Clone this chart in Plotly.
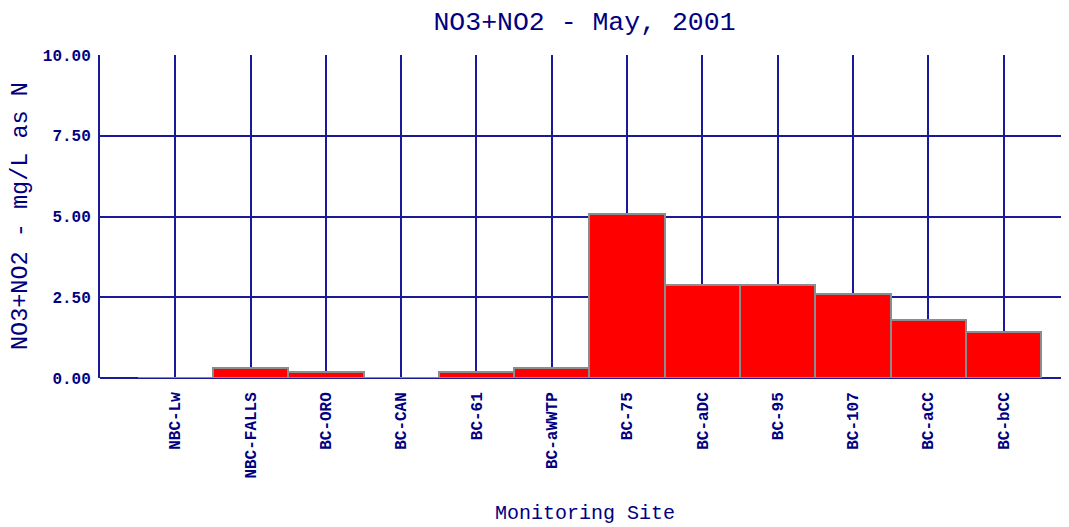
import plotly.graph_objects as go

sites = ["NBC-Lw", "NBC-FALLS", "BC-ORO", "BC-CAN", "BC-61", "BC-aWWTP",
         "BC-75", "BC-aDC", "BC-95", "BC-107", "BC-aCC", "BC-bCC"]
values = [0.0, 0.31, 0.19, 0.0, 0.19, 0.31, 5.07, 2.88, 2.88, 2.60, 1.80, 1.43]
y_ticks = [0, 2.5, 5, 7.5, 10]

title_text = "NO3+NO2 - May, 2001"
x_title = "Monitoring Site"
y_title = "NO3+NO2 - mg/L as N"

NAVY = "#1a1a99"
TEXT = "#000080"
MONO = "Liberation Mono, DejaVu Sans Mono, monospace"

fig = go.Figure(go.Bar(
    x=sites, y=values, width=1,
    marker=dict(color="#ff0000", line=dict(color="#8c8c8c", width=2)),
))

fig.update_layout(
    width=1061, height=519,
    margin=dict(l=92, r=0, t=47, b=149),
    paper_bgcolor="white", plot_bgcolor="white",
    showlegend=False, bargap=0,
    title=dict(text=title_text, x=0.5, xref="paper", xanchor="center",
               y=1, yref="container", yanchor="top", pad=dict(t=3),
               font=dict(family=MONO, size=26.5, color=TEXT)),
    xaxis=dict(
        type="category", range=[-1, 11.87],
        showgrid=True, gridcolor=NAVY, gridwidth=1.5,
        showline=False, zeroline=False, ticks="",
        tickangle=-90, ticklabelstandoff=10,
        tickfont=dict(family=MONO, size=16, color=TEXT, weight="bold"),
    ),
    yaxis=dict(
        range=[0, 10], tickvals=y_ticks, tickformat=".2f",
        showgrid=True, gridcolor=NAVY, gridwidth=1.5,
        showline=True, linecolor=NAVY, linewidth=2,
        zeroline=True, zerolinecolor=NAVY, zerolinewidth=2,
        ticks="", ticklabelstandoff=4,
        tickfont=dict(family=MONO, size=16, color=TEXT, weight="bold"),
    ),
    annotations=[
        dict(text=x_title, xref="paper", yref="paper", x=0.5, y=-0.42,
             xanchor="center", yanchor="middle", showarrow=False,
             font=dict(family=MONO, size=20, color=TEXT)),
        dict(text=y_title, xref="paper", yref="paper", x=-0.082, y=0.5,
             xanchor="center", yanchor="middle", showarrow=False, textangle=-90,
             font=dict(family=MONO, size=23.5, color=TEXT)),
    ],
)

fig.write_html("out.html")
